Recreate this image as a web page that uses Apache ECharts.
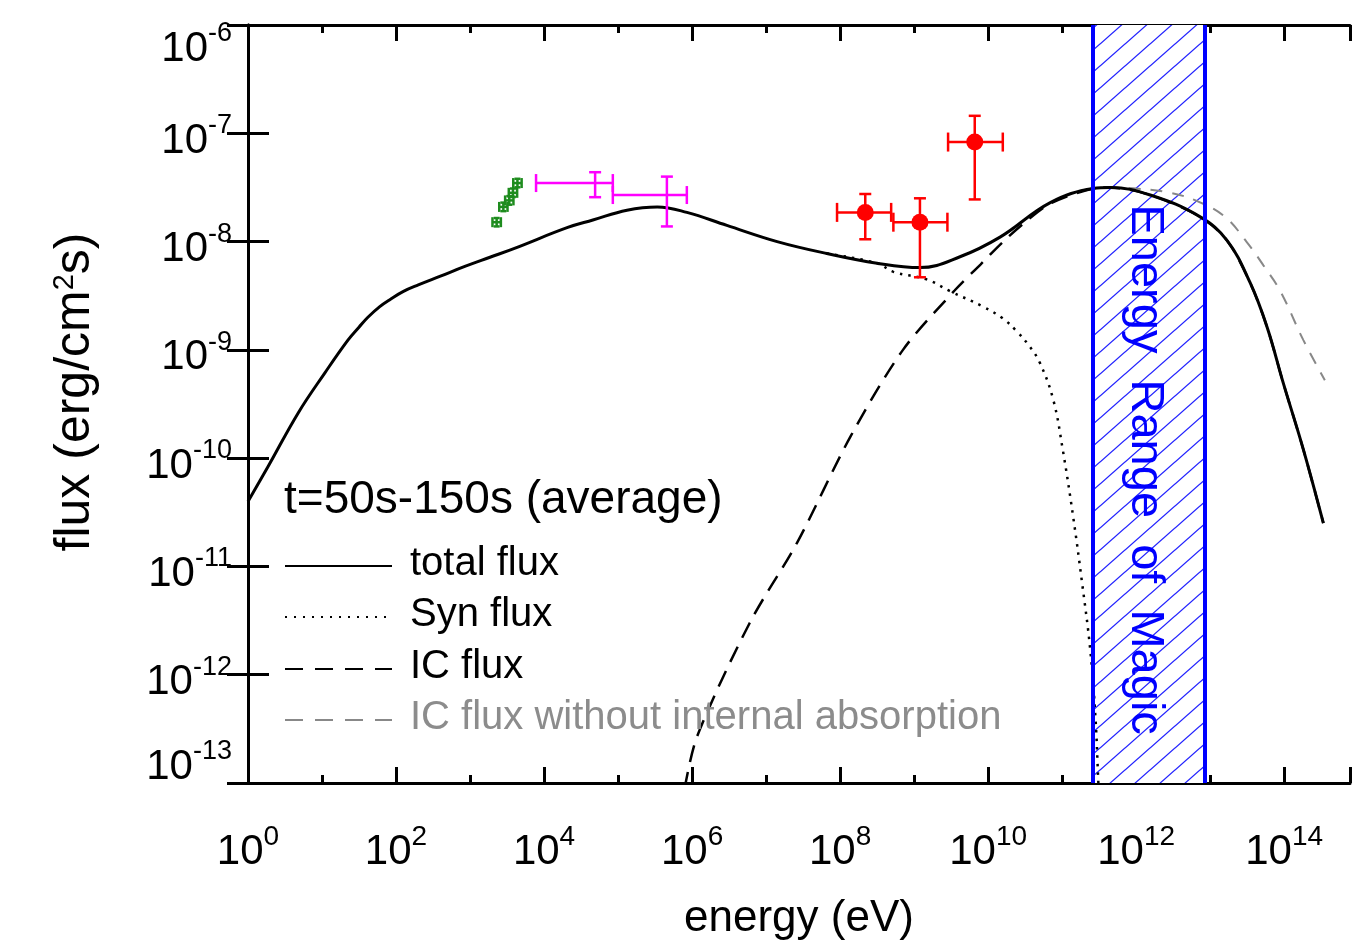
<!DOCTYPE html>
<html><head><meta charset="utf-8">
<script src="https://cdn.jsdelivr.net/npm/echarts@6/dist/echarts.min.js"></script>
<style>html,body{margin:0;padding:0;background:#fff}#c{width:1353px;height:948px}</style>
</head><body><div id="c"></div>
<script>
// ---- tick labels (powers of ten shown on the axes) ----
const xTickExponents = [0, 2, 4, 6, 8, 10, 12, 14];
const yTickExponents = [-13, -12, -11, -10, -9, -8, -7, -6];

// ---- model curves: energy (eV) and flux (erg/cm^2/s) ----
const totalE = [1, 1.86, 4.79, 11.0, 22.4, 31.6, 41.7, 60.3, 85.1, 126, 200, 398, 851, 1860, 4070, 2.09e4, 4.57e4, 1.32e5, 3.39e5, 8.51e5, 2.95e6, 1.41e7, 6.61e7, 3.16e8, 1.20e9, 4.17e9, 1.45e10, 6.92e10, 2.63e11, 4.47e11, 1.55e12, 7.24e12, 1.70e13, 3.47e13, 5.89e13, 9.77e13, 1.82e14, 3.39e14];
const totalF = [3.98e-11, 8.32e-11, 2.63e-10, 6.17e-10, 1.23e-9, 1.62e-9, 2.0e-9, 2.51e-9, 2.95e-9, 3.47e-9, 3.98e-9, 4.79e-9, 5.89e-9, 7.16e-9, 8.71e-9, 1.35e-8, 1.58e-8, 1.95e-8, 2.09e-8, 1.86e-8, 1.41e-8, 1.0e-8, 7.76e-9, 6.31e-9, 5.75e-9, 7.24e-9, 1.10e-8, 2.29e-8, 3.09e-8, 3.16e-8, 2.69e-8, 1.70e-8, 1.02e-8, 4.17e-9, 1.62e-9, 4.90e-10, 1.20e-10, 2.51e-11];

const synE = [6.61e7, 3.16e8, 5.25e8, 1.48e9, 3.09e9, 8.51e9, 1.58e10, 2.45e10, 3.55e10, 5.01e10, 7.59e10, 1.02e11, 1.41e11, 1.86e11, 2.40e11, 2.82e11, 3.09e11, 3.39e11];
const synF = [7.76e-9, 6.31e-9, 5.25e-9, 4.47e-9, 3.47e-9, 2.51e-9, 1.95e-9, 1.48e-9, 1.10e-9, 7.59e-10, 3.47e-10, 1.20e-10, 2.88e-11, 7.08e-12, 1.70e-12, 4.07e-13, 1.0e-13, 2.5e-14];

const icE = [7.94e5, 1.17e6, 6.03e6, 2.63e7, 1.38e8, 7.08e8, 3.55e9, 7.94e9, 1.55e10, 2.95e10, 6.92e10, 2.63e11, 4.47e11, 1.55e12, 7.24e12, 1.70e13, 3.47e13, 5.89e13, 9.77e13, 1.82e14, 3.39e14];
const icF = [8.9e-14, 2.69e-13, 3.02e-12, 1.66e-11, 1.58e-10, 1.0e-9, 3.55e-9, 6.17e-9, 9.77e-9, 1.45e-8, 2.24e-8, 3.09e-8, 3.16e-8, 2.69e-8, 1.70e-8, 1.02e-8, 4.17e-9, 1.62e-9, 4.90e-10, 1.20e-10, 2.51e-11];

const icNoAbsE = [3.98e11, 1e12, 2.88e12, 6.92e12, 1.58e13, 3.09e13, 5.25e13, 8.91e13, 1.82e14, 3.55e14];
const icNoAbsF = [3.16e-8, 3.09e-8, 2.82e-8, 2.34e-8, 1.70e-8, 1.0e-8, 6.03e-9, 3.47e-9, 1.23e-9, 5.25e-10];

// ---- observed data points with error ranges ----
const greenE = [2290, 2820, 3390, 3800, 4370];
const greenElo = [2010, 2480, 2980, 3340, 3840];
const greenEhi = [2610, 3210, 3860, 4330, 4980];
const greenF = [1.51e-8, 2.09e-8, 2.40e-8, 2.82e-8, 3.47e-8];
const greenFlo = [1.38e-8, 1.91e-8, 2.19e-8, 2.58e-8, 3.17e-8];
const greenFhi = [1.65e-8, 2.29e-8, 2.63e-8, 3.09e-8, 3.80e-8];

const magentaE = [4.9e4, 4.57e5];
const magentaElo = [7.8e3, 8.5e4];
const magentaEhi = [8.5e4, 8.5e5];
const magentaF = [3.47e-8, 2.69e-8];
const magentaFlo = [2.57e-8, 1.38e-8];
const magentaFhi = [4.37e-8, 3.98e-8];

const redE = [2.19e8, 1.2e9, 6.6e9];
const redElo = [9.1e7, 5.25e8, 2.88e9];
const redEhi = [4.9e8, 2.82e9, 1.58e10];
const redF = [1.86e-8, 1.51e-8, 8.3e-8];
const redFlo = [1.05e-8, 4.68e-9, 2.45e-8];
const redFhi = [2.75e-8, 2.51e-8, 1.45e-7];

// ---- MAGIC energy band (eV) ----
const magicBand = [2.63e11, 8.5e12];

// ---- texts ----
const legendTitle = 't=50s-150s (average)';
const legendNames = ['total flux', 'Syn flux', 'IC flux', 'IC flux without internal absorption'];
const bandText = 'Energy  Range  of  Magic';

const lg = Math.log10;
const pts = (E, F) => E.map((e, i) => [lg(e), lg(F[i])]);
const errPts = (E, F, El, Eh, Fl, Fh) => E.map((e, i) => [lg(e), lg(F[i]), lg(El[i]), lg(Eh[i]), lg(Fl[i]), lg(Fh[i])]);

const FONT = "'Liberation Sans', Arial, Helvetica, sans-serif";

function hatchCanvas() {
  const w = 25, h = 22;
  const c = document.createElement('canvas');
  c.width = w; c.height = h;
  const g = c.getContext('2d');
  g.fillStyle = '#fff'; g.fillRect(0, 0, w, h);
  g.strokeStyle = 'rgba(20,20,255,0.95)'; g.lineWidth = 1.3;
  [[0, 0], [-w, 0], [w, 0], [0, -h], [0, h]].forEach(([dx, dy]) => {
    g.beginPath(); g.moveTo(dx, h + dy); g.lineTo(w + dx, dy); g.stroke();
  });
  return c;
}

function errRender(color, lw, xCap, yCap, dotR) {
  return function (params, api) {
    const c = api.coord([api.value(0), api.value(1)]);
    const xl = api.coord([api.value(2), api.value(1)]);
    const xh = api.coord([api.value(3), api.value(1)]);
    const yl = api.coord([api.value(0), api.value(4)]);
    const yh = api.coord([api.value(0), api.value(5)]);
    const st = { stroke: color, lineWidth: lw, fill: null };
    const L = (x1, y1, x2, y2) => ({ type: 'line', shape: { x1, y1, x2, y2 }, style: st });
    const ch = [
      L(xl[0], c[1], xh[0], c[1]),
      L(xl[0], c[1] - xCap, xl[0], c[1] + xCap),
      L(xh[0], c[1] - xCap, xh[0], c[1] + xCap),
      L(c[0], yl[1], c[0], yh[1]),
      L(c[0] - yCap, yl[1], c[0] + yCap, yl[1]),
      L(c[0] - yCap, yh[1], c[0] + yCap, yh[1])
    ];
    if (dotR) ch.push({ type: 'circle', shape: { cx: c[0], cy: c[1], r: dotR }, style: { fill: color } });
    return { type: 'group', children: ch };
  };
}

const axisLineStyle = { color: '#000', width: 3 };
const yRich = {
  b: { fontSize: 42, fontFamily: FONT, color: '#000', lineHeight: 42, padding: [16, 0, 0, 0] },
  s: { fontSize: 27, fontFamily: FONT, color: '#000', verticalAlign: 'top', lineHeight: 27 },
  gt: { fontSize: 10, lineHeight: 32 },
  gb: { fontSize: 10, lineHeight: 48 }
};
const xRich = {
  b: { fontSize: 42, fontFamily: FONT, color: '#000', lineHeight: 42, padding: [16, 0, 0, 0] },
  s: { fontSize: 28, fontFamily: FONT, color: '#000', verticalAlign: 'top', lineHeight: 28 }
};
function yFmt(v) {
  if (!yTickExponents.includes(v)) return '';
  const core = '{b|10}{s|' + v + '}';
  if (v === yTickExponents[yTickExponents.length - 1]) return '{gt| }\n' + core;
  if (v === yTickExponents[0]) return core + '\n{gb| }';
  return core;
}

const chart = echarts.init(document.getElementById('c'), null, { renderer: 'canvas' });

const option = {
  animation: false,
  backgroundColor: '#fff',
  grid: { left: 248, right: 3, top: 25, bottom: 165, containLabel: false, outerBoundsMode: 'none' },
  xAxis: [{
    type: 'value', min: 0, max: 14.89, interval: 2, position: 'bottom',
    name: 'energy (eV)', nameLocation: 'middle', nameGap: 114,
    nameTextStyle: { fontSize: 44, fontFamily: FONT, color: '#000' },
    axisLine: { lineStyle: axisLineStyle },
    axisTick: { inside: true, length: 16, lineStyle: { color: '#000', width: 3 } },
    minorTick: { show: true, splitNumber: 2, length: 8, lineStyle: { color: '#000', width: 3 } },
    splitLine: { show: false }, minorSplitLine: { show: false },
    axisLabel: {
      margin: 40, showMaxLabel: false,
      formatter: v => xTickExponents.includes(v) ? '{b|10}{s|' + v + '}' : '',
      rich: xRich
    }
  }, {
    type: 'value', min: 0, max: 14.89, interval: 2, position: 'top',
    axisLine: { lineStyle: axisLineStyle },
    axisTick: { inside: true, length: 16, lineStyle: { color: '#000', width: 3 } },
    minorTick: { show: true, splitNumber: 2, length: 8, lineStyle: { color: '#000', width: 3 } },
    splitLine: { show: false }, axisLabel: { show: false }
  }],
  yAxis: [{
    type: 'value', min: -13, max: -6, interval: 1, position: 'left',
    name: '{n|flux (erg/cm}{s|2}{n|s)}', nameLocation: 'middle', nameGap: 148, nameRotate: 90,
    nameTextStyle: {
      padding: [0, 0, 0, 24],
      rich: {
        n: { fontSize: 50, fontFamily: FONT, color: '#000', lineHeight: 50 },
        s: { fontSize: 29, fontFamily: FONT, color: '#000', verticalAlign: 'top', lineHeight: 29 }
      }
    },
    axisLine: { lineStyle: axisLineStyle },
    axisTick: { inside: true, length: 21, lineStyle: { color: '#000', width: 3 } },
    splitLine: { show: false },
    axisLabel: { margin: 16, formatter: yFmt, rich: yRich }
  }, {
    type: 'value', min: -13, max: -6, interval: 1, position: 'right',
    axisLine: { lineStyle: axisLineStyle },
    axisTick: { inside: true, length: 21, lineStyle: { color: '#000', width: 3 } },
    splitLine: { show: false }, axisLabel: { show: false }
  }],
  series: [
    {
      name: 'Magic band', type: 'line', data: [], z: 1, silent: true,
      markArea: {
        silent: true,
        itemStyle: { color: { image: hatchCanvas(), repeat: 'repeat' }, opacity: 1, borderWidth: 0 },
        label: { show: false },
        data: [[{ xAxis: lg(magicBand[0]) }, { xAxis: lg(magicBand[1]) }]]
      },
      markLine: {
        silent: true, symbol: 'none', label: { show: false },
        lineStyle: { color: '#0000ff', width: 4, type: 'solid' },
        data: [{ xAxis: lg(magicBand[0]) }, { xAxis: lg(magicBand[1]) }]
      }
    },
    {
      name: legendNames[3], type: 'line', data: pts(icNoAbsE, icNoAbsF), smooth: 0.4, symbol: 'none', z: 3,
      lineStyle: { color: '#888', width: 2, type: [12, 10] }
    },
    {
      name: legendNames[2], type: 'line', data: pts(icE, icF), smooth: 0.3, symbol: 'none', z: 3,
      lineStyle: { color: '#000', width: 2.5, type: [17, 10] }
    },
    {
      name: legendNames[1], type: 'line', data: pts(synE, synF), smooth: 0.4, symbol: 'none', z: 3,
      lineStyle: { color: '#000', width: 2.5, type: [2.5, 6] }
    },
    {
      name: legendNames[0], type: 'line', data: pts(totalE, totalF), smooth: 0.4, symbol: 'none', z: 4,
      lineStyle: { color: '#000', width: 3 }
    },
    {
      name: 'green', type: 'custom', z: 5, data: errPts(greenE, greenF, greenElo, greenEhi, greenFlo, greenFhi),
      renderItem: errRender('#1e8c1e', 2.5, 5, 3, 0)
    },
    {
      name: 'magenta', type: 'custom', z: 5, data: errPts(magentaE, magentaF, magentaElo, magentaEhi, magentaFlo, magentaFhi),
      renderItem: errRender('#ff00ff', 2.5, 9, 6, 0)
    },
    {
      name: 'red', type: 'custom', z: 5, data: errPts(redE, redF, redElo, redEhi, redFlo, redFhi),
      renderItem: errRender('#ff0000', 2.5, 9.5, 6, 8.5)
    }
  ]
};
chart.setOption(option);

// legend & band label (layout graphics)
const bandX = (chart.convertToPixel({ xAxisIndex: 0 }, lg(magicBand[0])) + chart.convertToPixel({ xAxisIndex: 0 }, lg(magicBand[1]))) / 2;
const bandY = chart.convertToPixel({ yAxisIndex: 0 }, lg(2.2e-8));
const lx0 = 285, lx1 = 392, tx = 410;
const rows = [566, 617, 669, 720];
const styles = [
  { stroke: '#000', lineWidth: 2 },
  { stroke: '#000', lineWidth: 2, lineDash: [2, 7] },
  { stroke: '#000', lineWidth: 2, lineDash: [18, 12] },
  { stroke: '#888', lineWidth: 2, lineDash: [18, 12] }
];
const graphics = [
  { type: 'text', x: 284, y: 500, z: 10, style: { text: legendTitle, fontSize: 46, fontFamily: FONT, fill: '#000', align: 'left', verticalAlign: 'middle' } },
  { type: 'text', x: bandX - 4, y: bandY, rotation: -Math.PI / 2, z: 10, style: { text: bandText, fontSize: 47, fontFamily: FONT, fill: '#0000ff', align: 'left', verticalAlign: 'middle' } }
];
rows.forEach((y, i) => {
  graphics.push({ type: 'line', z: 10, shape: { x1: lx0, y1: y, x2: lx1, y2: y }, style: styles[i] });
  graphics.push({ type: 'text', x: tx, y: y - 2, z: 10, style: { text: legendNames[i], fontSize: 40, fontFamily: FONT, fill: i === 3 ? '#8c8c8c' : '#000', align: 'left', verticalAlign: 'middle' } });
});
chart.setOption({ graphic: graphics });
</script></body></html>
